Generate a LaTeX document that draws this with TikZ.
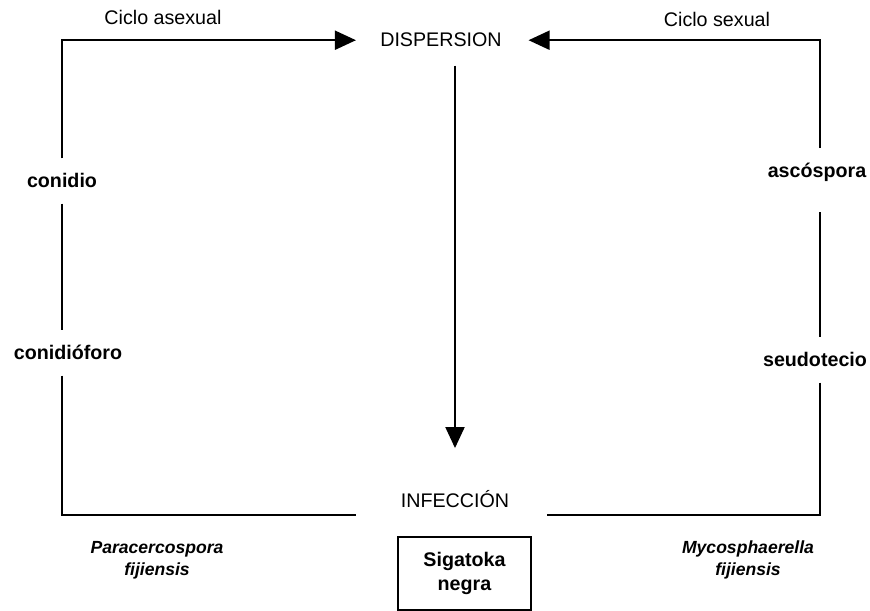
\documentclass[tikz,border=0pt]{standalone}
\usepackage{fontspec}
\setmainfont{Liberation Sans}
\usetikzlibrary{arrows.meta,positioning}

\begin{document}
\begin{tikzpicture}[
    texto/.style={font=\fontsize{11.2}{14}\selectfont, inner sep=0.13cm},
    etapa/.style={texto, font=\fontsize{11.2}{14}\selectfont\bfseries, inner ysep=0.3cm},
    especie/.style={align=center, font=\fontsize{10}{12.5}\selectfont\bfseries\itshape},
    linea/.style={line width=1.1pt},
    flecha/.style={linea, -{Triangle[length=0.42cm, width=0.38cm]}}
]
    \useasboundingbox (0,0) rectangle (17.4,-12.22);

    % Nodos centrales
    \node[texto, anchor=base] (disp) at (8.82,-0.94) {DISPERSION};
    \node[texto, anchor=base] (infec) at (9.1,-10.16) {INFECCIÓN};
    \node[draw, line width=0.8pt, align=center, minimum width=2.66cm, minimum height=1.46cm,
          font=\fontsize{11.2}{14}\selectfont\bfseries] (sigatoka) at (9.29,-11.47) {Sigatoka\\negra};

    % Titulos de los ciclos
    \node[texto, anchor=base] (asexual) at (3.26,-0.5) {Ciclo asexual};
    \node[texto, anchor=base] (sexual) at (14.34,-0.54) {Ciclo sexual};

    % Etapas de cada ciclo
    \node[etapa, anchor=base] (conidio) at (1.24,-3.76) {conidio};
    \node[etapa, anchor=base] (conidioforo) at (1.36,-7.2) {conidióforo};
    \node[etapa, anchor=base] (ascospora) at (16.34,-3.56) {ascóspora};
    \node[etapa, anchor=base] (seudotecio) at (16.3,-7.34) {seudotecio};

    % Especies
    \node[especie] (paracerco) at (3.14,-11.2) {Paracercospora\\fijiensis};
    \node[especie] (myco) at (14.96,-11.2) {Mycosphaerella\\fijiensis};

    % Esquinas del recuadro
    \coordinate (izq) at (1.24,0);
    \coordinate (der) at (16.4,0);
    \coordinate (nivelinf) at (0,-10.3);
    \coordinate (esqTI) at (izq |- disp.west);
    \coordinate (esqTD) at (der |- disp.west);
    \coordinate (esqBI) at (izq |- nivelinf);
    \coordinate (esqBD) at (der |- nivelinf);

    % Ciclo asexual (izquierda)
    \draw[flecha, shorten >=0.35cm] (izq |- conidio.north) -- (esqTI) -- (disp.west);
    \draw[linea] (izq |- conidio.south) -- (izq |- conidioforo.north);
    \draw[linea, shorten >=0.77cm] (izq |- conidioforo.south) -- (esqBI) -- (esqBI -| infec.west);

    % Ciclo sexual (derecha)
    \draw[flecha, shorten >=0.4cm] (der |- ascospora.north) -- (esqTD) -- (disp.east);
    \draw[linea, shorten <=0.3cm] (der |- ascospora.south) -- (der |- seudotecio.north);
    \draw[linea, shorten >=0.63cm] (der |- seudotecio.south) -- (esqBD) -- (esqBD -| infec.east);

    % Dispersion -> infeccion
    \draw[flecha, shorten <=0.23cm, shorten >=0.72cm] (infec.north |- disp.south) -- (infec.north);
\end{tikzpicture}
\end{document}
